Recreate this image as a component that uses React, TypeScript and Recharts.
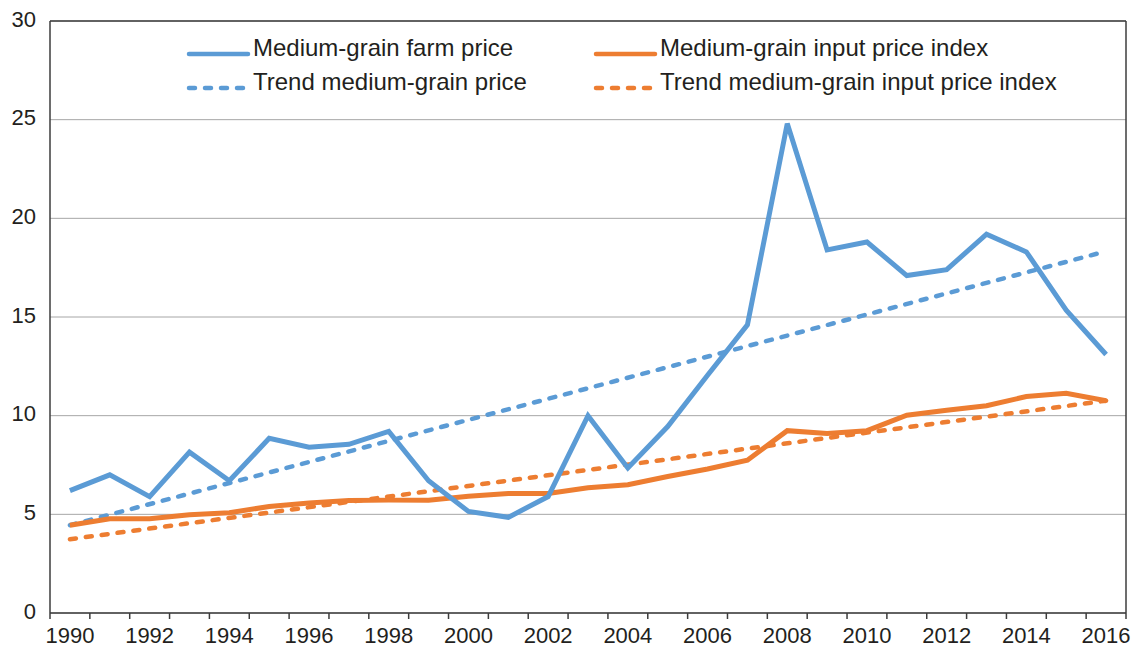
import { LineChart, Line, XAxis, YAxis, CartesianGrid, Legend, ReferenceLine } from "recharts";

const years = [
  1990, 1991, 1992, 1993, 1994, 1995, 1996, 1997, 1998, 1999, 2000, 2001, 2002, 2003,
  2004, 2005, 2006, 2007, 2008, 2009, 2010, 2011, 2012, 2013, 2014, 2015, 2016,
];

const farmPrice = [
  6.2, 7.0, 5.9, 8.15, 6.7, 8.85, 8.4, 8.55, 9.2, 6.7, 5.15, 4.85, 5.9, 10.0,
  7.35, 9.45, 12.05, 14.6, 24.8, 18.4, 18.8, 17.1, 17.4, 19.2, 18.3, 15.35, 13.1,
];

const inputIndex = [
  4.45, 4.78, 4.78, 4.98, 5.08, 5.4, 5.58, 5.7, 5.72, 5.72, 5.92, 6.06, 6.06, 6.35,
  6.5, 6.92, 7.3, 7.74, 9.24, 9.1, 9.24, 10.02, 10.27, 10.5, 10.97, 11.13, 10.76,
];

// straight trend lines: start (1990) and end (2016) values
const trendPrice = [4.45, 18.33];
const trendInput = [3.74, 10.76];

const labelYears = [1990, 1992, 1994, 1996, 1998, 2000, 2002, 2004, 2006, 2008, 2010, 2012, 2014, 2016];
const yTicks = [0, 5, 10, 15, 20, 25, 30];

const BLUE = "#5b9bd5";
const ORANGE = "#ed7d31";
const INK = "#231f20";
const AXIS = "#3c3c3c";
const FONT = "'Liberation Sans', Arial, sans-serif";

const W = 1139;
const H = 650;
const M = { top: 21, right: 13, left: 0, bottom: 0 };
const Y_W = 50;
const BAND = (W - M.left - M.right - Y_W) / years.length;

const data = years.map((year, i) => ({
  year,
  farm: farmPrice[i],
  input: inputIndex[i],
  trendFarm: i === 0 ? trendPrice[0] : i === years.length - 1 ? trendPrice[1] : null,
  trendInput: i === 0 ? trendInput[0] : i === years.length - 1 ? trendInput[1] : null,
}));

const boundaries = [...years.map((y) => y - 0.5), years[years.length - 1] + 0.5];

const legendItems = [
  { label: "Medium-grain farm price", color: BLUE, dashed: false },
  { label: "Medium-grain input price index", color: ORANGE, dashed: false },
  { label: "Trend medium-grain price", color: BLUE, dashed: true },
  { label: "Trend medium-grain input price index", color: ORANGE, dashed: true },
];

function YearTick(props: any) {
  const { x, y, payload } = props;
  const year = payload.value + 0.5;
  if (!labelYears.includes(year)) return null;
  return (
    <text x={x + BAND / 2} y={y} dy="0.71em" textAnchor="middle" fill={INK} fontSize={22} fontFamily={FONT}>
      {year}
    </text>
  );
}

function ChartLegend() {
  return (
    <div
      style={{
        display: "grid",
        gridTemplateColumns: "407px 480px",
        fontFamily: FONT,
        fontSize: 24,
        color: INK,
      }}
    >
      {legendItems.map((it) => (
        <div key={it.label} style={{ display: "flex", alignItems: "center", height: 34 }}>
          <svg width={67} height={12} style={{ flex: "none", marginTop: 12 }}>
            <line
              x1={3}
              y1={6}
              x2={62}
              y2={6}
              stroke={it.color}
              strokeWidth={4.5}
              strokeLinecap="round"
              strokeDasharray={it.dashed ? "6 10" : undefined}
            />
          </svg>
          <span style={{ whiteSpace: "nowrap" }}>{it.label}</span>
        </div>
      ))}
    </div>
  );
}

export default function App() {
  return (
    <div style={{ position: "absolute", left: 0, top: 0, width: W, height: H, background: "#fff" }}>
      <LineChart width={W} height={H} data={data} margin={M}>
        <CartesianGrid vertical={false} stroke="#a6a6a6" strokeWidth={1} />
        <XAxis
          dataKey="year"
          type="number"
          domain={[boundaries[0], boundaries[boundaries.length - 1]]}
          ticks={boundaries}
          interval={0}
          height={37}
          tickSize={6}
          tickMargin={8}
          axisLine={{ stroke: AXIS, strokeWidth: 1.5 }}
          tickLine={{ stroke: AXIS, strokeWidth: 1.5 }}
          tick={<YearTick />}
        />
        <YAxis
          type="number"
          domain={[0, 30]}
          ticks={yTicks}
          interval={0}
          width={Y_W}
          tickLine={false}
          tickSize={6}
          tickMargin={8}
          axisLine={{ stroke: AXIS, strokeWidth: 1.5 }}
          tick={{ fill: INK, fontSize: 22, fontFamily: FONT, dy: -2 }}
        />
        <ReferenceLine y={30} stroke={AXIS} strokeWidth={1.5} />
        <ReferenceLine x={boundaries[boundaries.length - 1]} stroke={AXIS} strokeWidth={1.5} />
        <Legend
          layout="vertical"
          align="center"
          verticalAlign="middle"
          wrapperStyle={{ top: 31, left: 186, width: 900 }}
          content={() => <ChartLegend />}
        />
        <Line
          dataKey="trendFarm"
          stroke={BLUE}
          strokeWidth={4.5}
          strokeDasharray="6 10"
          strokeLinecap="round"
          connectNulls
          dot={false}
          activeDot={false}
          isAnimationActive={false}
        />
        <Line
          dataKey="trendInput"
          stroke={ORANGE}
          strokeWidth={4.5}
          strokeDasharray="6 10"
          strokeLinecap="round"
          connectNulls
          dot={false}
          activeDot={false}
          isAnimationActive={false}
        />
        <Line
          dataKey="input"
          stroke={ORANGE}
          strokeWidth={5}
          dot={false}
          activeDot={false}
          isAnimationActive={false}
        />
        <Line
          dataKey="farm"
          stroke={BLUE}
          strokeWidth={5}
          dot={false}
          activeDot={false}
          isAnimationActive={false}
        />
      </LineChart>
    </div>
  );
}
